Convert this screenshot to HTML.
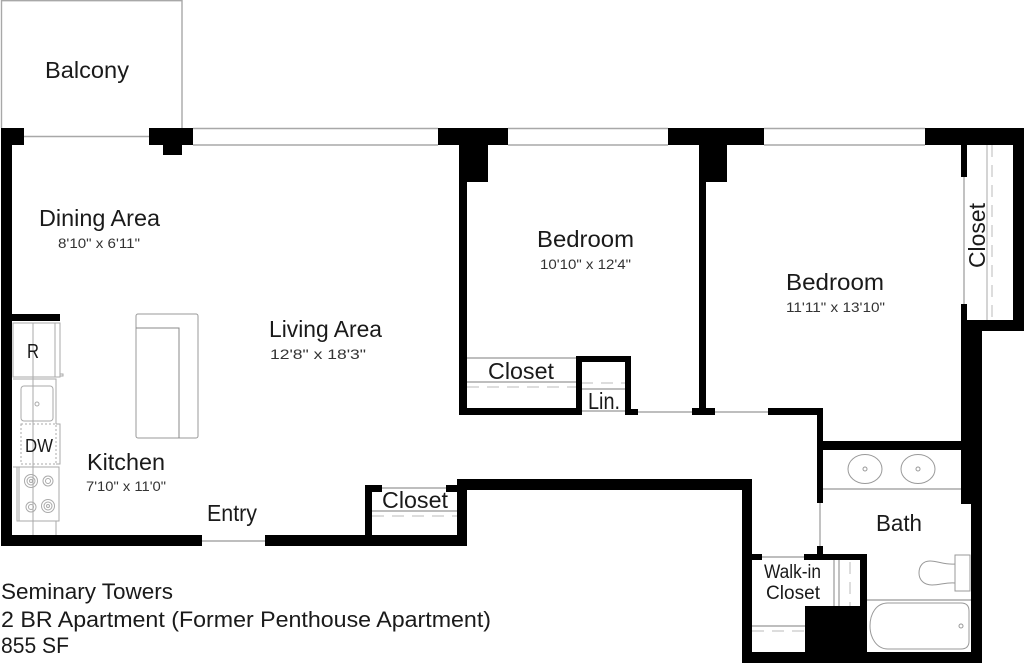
<!DOCTYPE html>
<html><head><meta charset="utf-8"><style>
html,body{margin:0;padding:0;background:#fff;width:1024px;height:663px;overflow:hidden}
svg{display:block}
text{font-family:"Liberation Sans",sans-serif;fill:#1a1a1a}
.l{font-size:23px}.s{font-size:14px;fill:#333}.f{font-size:22px}
.k{fill:#000;stroke:none}
.g{stroke:#a8a8a8;stroke-width:1.4;fill:none}
.n{stroke:#aaa;stroke-width:1;fill:none}
.d{stroke:#bbb;stroke-width:1;fill:none;stroke-dasharray:12 8}
.o{stroke:#aaa;stroke-width:1;fill:none;stroke-dasharray:2 2}
</style></head><body>
<svg width="1024" height="663" viewBox="0 0 1024 663" xmlns="http://www.w3.org/2000/svg">
<rect width="1024" height="663" fill="#fff"/>
<path class="g" d="M1.5 128V0.7H182V128"/>
<path class="g" d="M24 136.5H149"/>
<path class="g" d="M193 128.5H438M193 145H438M508 128.5H668M508 145H668M764 128.5H925M764 145H925"/>
<path class="g" d="M467 358H576M467 382H576M581 389H625M581 411H625M638 412H692M715 412H768M382 488H446M372 511H457M202 541H265M820 503V546M964 177V304M762 557H804M823 489H961M867 600H971"/>
<path class="g" d="M752 626H805M834 560V606M839 560V606"/>
<path class="d" d="M467 387H576M581 383H625M372 516H457M752 631H805M992 145V320M850 562V606"/>
<path class="n" d="M987 145V320"/>
<g class="k">
<rect x="1" y="128" width="23" height="17"/>
<rect x="1" y="128" width="11" height="418"/>
<rect x="1" y="535" width="201" height="11"/>
<rect x="149" y="128" width="44" height="17"/>
<rect x="163" y="145" width="19" height="10"/>
<rect x="438" y="128" width="70" height="17"/>
<rect x="459" y="145" width="29" height="37"/>
<rect x="459" y="145" width="8" height="270"/>
<rect x="459" y="408" width="122" height="7"/>
<rect x="576" y="356" width="6" height="59"/>
<rect x="576" y="356" width="55" height="6"/>
<rect x="625" y="356" width="6" height="59"/>
<rect x="625" y="409" width="13" height="6"/>
<rect x="668" y="128" width="96" height="17"/>
<rect x="699" y="145" width="28" height="37"/>
<rect x="699" y="145" width="7" height="270"/>
<rect x="692" y="408" width="23" height="7"/>
<rect x="925" y="128" width="99" height="17"/>
<rect x="1013" y="128" width="11" height="203"/>
<rect x="961" y="145" width="6" height="32"/>
<rect x="961" y="304" width="6" height="20"/>
<rect x="961" y="320" width="63" height="11"/>
<rect x="961" y="320" width="21" height="184"/>
<rect x="971" y="500" width="11" height="163"/>
<rect x="768" y="408" width="55" height="7"/>
<rect x="817" y="408" width="6" height="95"/>
<rect x="817" y="441" width="144" height="9"/>
<rect x="817" y="546" width="6" height="10"/>
<rect x="804" y="554" width="63" height="6"/>
<rect x="742" y="554" width="20" height="6"/>
<rect x="860" y="554" width="7" height="98"/>
<rect x="805" y="606" width="62" height="46"/>
<rect x="742" y="652" width="240" height="11"/>
<rect x="742" y="479" width="10" height="184"/>
<rect x="457" y="479" width="295" height="11"/>
<rect x="457" y="479" width="10" height="67"/>
<rect x="265" y="535" width="202" height="11"/>
<rect x="365" y="485" width="7" height="55"/>
<rect x="365" y="485" width="17" height="7"/>
<rect x="446" y="485" width="12" height="7"/>
<rect x="12" y="314" width="48" height="7"/>
</g>
<path class="n" d="M13 323H55V377H13ZM55 323H60V377H55M60 374H63V376H60M13 379H56V424M13 467H17M56 424H60V464H56M33 323V535M56 521V535"/>
<rect class="n" x="21" y="386" width="32" height="35" rx="3"/>
<circle class="n" cx="37" cy="404" r="2"/>
<rect class="o" x="21" y="424" width="35" height="40"/>
<path class="n" d="M17 467H59V521H17ZM19 467V521"/>
<g class="n">
<circle cx="31" cy="481" r="6.5"/><circle cx="31" cy="481" r="4"/><circle cx="31" cy="481" r="1.5"/>
<circle cx="48" cy="481" r="5"/><circle cx="48" cy="481" r="2.5"/>
<circle cx="31" cy="507" r="5"/><circle cx="31" cy="507" r="2.5"/>
<circle cx="48" cy="506" r="6.5"/><circle cx="48" cy="506" r="4"/><circle cx="48" cy="506" r="1.5"/>
</g>
<rect x="136" y="314" width="62" height="124" rx="2" fill="#fff" stroke="#999"/>
<path class="n" style="stroke:#888" d="M136 328H179V438"/>
<g class="n" style="stroke:#999">
<ellipse cx="865" cy="469" rx="17" ry="14.5"/><circle cx="865" cy="469" r="2"/>
<ellipse cx="918" cy="469" rx="17" ry="14.5"/><circle cx="918" cy="469" r="2"/>
<rect x="955" y="555" width="15" height="36"/>
<path d="M955 564C945 565 938 561 930 561C923 561 919 566 919 573C919 580 924 585 932 585C940 585 947 582 955 583"/>
<path d="M888 603H961Q969 603 969 611V641Q969 649 961 649H888C876 649 870 637 870 626C870 614 876 603 888 603Z"/>
<circle cx="961" cy="626" r="2"/>
</g>
<text class="l" x="45" y="78" textLength="84" lengthAdjust="spacingAndGlyphs">Balcony</text>
<text class="l" x="39" y="226" textLength="121" lengthAdjust="spacingAndGlyphs">Dining Area</text>
<text class="s" x="58" y="248" textLength="82" lengthAdjust="spacingAndGlyphs">8'10" x 6'11"</text>
<text class="l" x="537" y="247" textLength="97" lengthAdjust="spacingAndGlyphs">Bedroom</text>
<text class="s" x="540" y="269" textLength="91" lengthAdjust="spacingAndGlyphs">10'10" x 12'4"</text>
<text class="l" x="786" y="290" textLength="98" lengthAdjust="spacingAndGlyphs">Bedroom</text>
<text class="s" x="786" y="312" textLength="99" lengthAdjust="spacingAndGlyphs">11'11" x 13'10"</text>
<text class="l" x="269" y="337" textLength="113" lengthAdjust="spacingAndGlyphs">Living Area</text>
<text class="s" x="270" y="359" textLength="96" lengthAdjust="spacingAndGlyphs">12'8" x 18'3"</text>
<text class="l" x="87" y="470" textLength="78" lengthAdjust="spacingAndGlyphs">Kitchen</text>
<text class="s" x="86" y="491" textLength="80" lengthAdjust="spacingAndGlyphs">7'10" x 11'0"</text>
<text class="l" x="207" y="521" textLength="50" lengthAdjust="spacingAndGlyphs">Entry</text>
<text class="l" x="488" y="379" textLength="66" lengthAdjust="spacingAndGlyphs">Closet</text>
<text class="l" x="588" y="409" textLength="32" lengthAdjust="spacingAndGlyphs">Lin.</text>
<text class="l" x="382" y="508" textLength="66" lengthAdjust="spacingAndGlyphs">Closet</text>
<text class="l" x="876" y="531" textLength="46" lengthAdjust="spacingAndGlyphs">Bath</text>
<text x="764" y="578" font-size="19" textLength="57" lengthAdjust="spacingAndGlyphs">Walk-in</text>
<text x="766" y="599" font-size="19" textLength="54" lengthAdjust="spacingAndGlyphs">Closet</text>
<text x="27" y="358" font-size="20" textLength="12" lengthAdjust="spacingAndGlyphs">R</text>
<text x="25" y="452" font-size="18" textLength="28" lengthAdjust="spacingAndGlyphs">DW</text>
<text class="l" transform="translate(985 268) rotate(-90)" x="0" y="0" textLength="65" lengthAdjust="spacingAndGlyphs">Closet</text>
<text class="f" x="1" y="599" textLength="172" lengthAdjust="spacingAndGlyphs">Seminary Towers</text>
<text class="f" x="1" y="627" textLength="490" lengthAdjust="spacingAndGlyphs">2 BR Apartment (Former Penthouse Apartment)</text>
<text class="f" x="1" y="653" textLength="68" lengthAdjust="spacingAndGlyphs">855 SF</text>
</svg>
</body></html>
